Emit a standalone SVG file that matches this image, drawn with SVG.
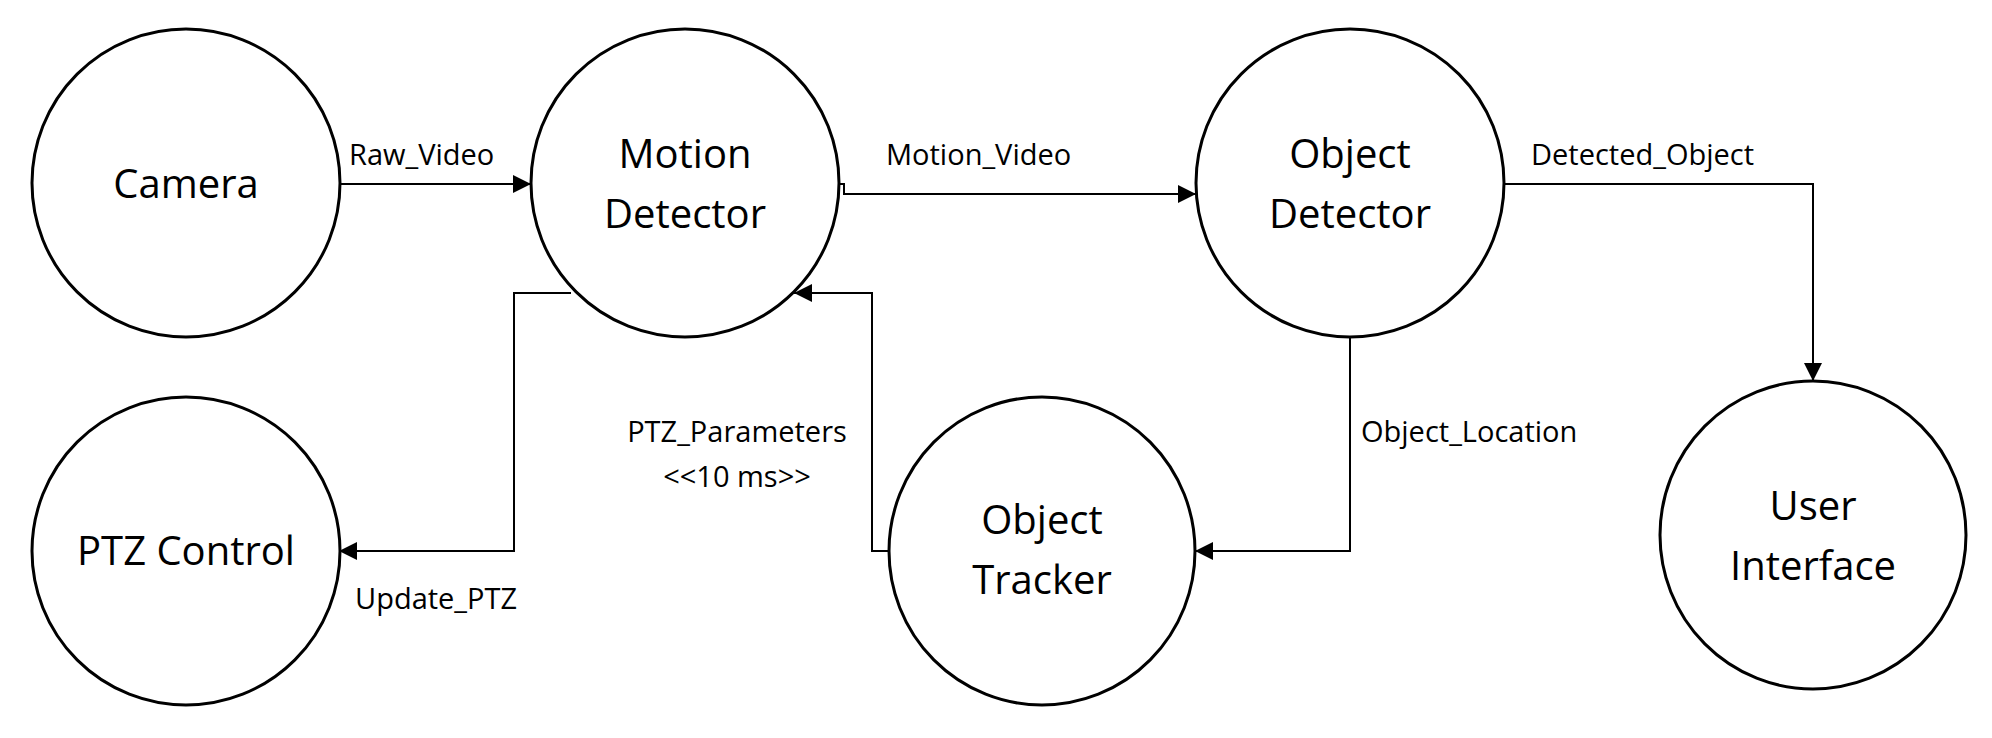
<svg xmlns="http://www.w3.org/2000/svg" width="1992" height="738" viewBox="0 0 1992 738">
<style>
.n{fill:#fff;stroke:#000;stroke-width:3}
.t{font-family:"Open Sans",sans-serif;font-size:40px;text-anchor:middle;fill:#000}
.l{font-family:"Open Sans",sans-serif;font-size:29px;fill:#000}
.c{fill:none;stroke:#000;stroke-width:2}
</style>
<defs><marker id="b" viewBox="0 0 10 10" refX="10" refY="5" markerWidth="18" markerHeight="18" markerUnits="userSpaceOnUse" orient="auto"><path d="M0,0L10,5L0,10z" fill="#000"/></marker></defs>
<g id="connectors">
<path class="c" d="M339,184H531" marker-end="url(#b)"/>
<path class="c" d="M839,184H844V194H1196" marker-end="url(#b)"/>
<path class="c" d="M1504,184H1813V381" marker-end="url(#b)"/>
<path class="c" d="M1350,338V551H1195" marker-end="url(#b)"/>
<path class="c" d="M890,551H872V293H794" marker-end="url(#b)"/>
<path class="c" d="M571,293H514V551H339" marker-end="url(#b)"/>
<text class="l" x="349" y="165">Raw_Video</text>
<text class="l" x="886" y="165">Motion_Video</text>
<text class="l" x="1531" y="165">Detected_Object</text>
<text class="l" x="1361" y="442">Object_Location</text>
<text class="l" x="737" y="442" text-anchor="middle">PTZ_Parameters</text>
<text class="l" x="737" y="487" text-anchor="middle">&lt;&lt;10 ms&gt;&gt;</text>
<text class="l" x="355" y="609">Update_PTZ</text>
</g>
<g id="camera"><ellipse class="n" cx="186" cy="183" rx="154" ry="154"/><text class="t" x="186" y="198">Camera</text></g>
<g id="motion"><ellipse class="n" cx="685" cy="183" rx="154" ry="154"/><text class="t" x="685" y="168">Motion</text><text class="t" x="685" y="228">Detector</text></g>
<g id="objdet"><ellipse class="n" cx="1350" cy="183" rx="154" ry="154"/><text class="t" x="1350" y="168">Object</text><text class="t" x="1350" y="228">Detector</text></g>
<g id="ptz"><ellipse class="n" cx="186" cy="551" rx="154" ry="154"/><text class="t" x="186" y="565">PTZ Control</text></g>
<g id="tracker"><ellipse class="n" cx="1042" cy="551" rx="153" ry="154"/><text class="t" x="1042" y="534">Object</text><text class="t" x="1042" y="594">Tracker</text></g>
<g id="ui"><ellipse class="n" cx="1813" cy="535" rx="153" ry="154"/><text class="t" x="1813" y="520">User</text><text class="t" x="1813" y="580">Interface</text></g>
</svg>
